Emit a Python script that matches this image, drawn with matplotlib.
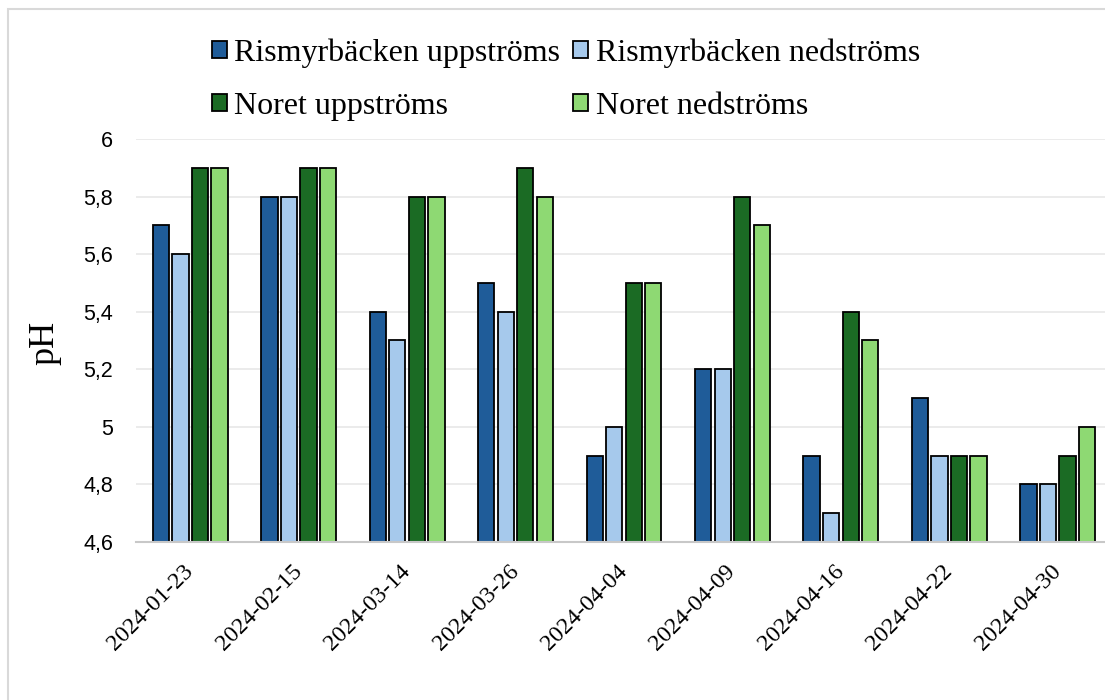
import numpy as np
import matplotlib
matplotlib.use("Agg")
import matplotlib.pyplot as plt
from matplotlib.patches import Rectangle

dates = ["2024-01-23", "2024-02-15", "2024-03-14", "2024-03-26", "2024-04-04",
         "2024-04-09", "2024-04-16", "2024-04-22", "2024-04-30"]
ris_upp = [5.7, 5.8, 5.4, 5.5, 4.9, 5.2, 4.9, 5.1, 4.8]
ris_ned = [5.6, 5.8, 5.3, 5.4, 5.0, 5.2, 4.7, 4.9, 4.8]
noret_upp = [5.9, 5.9, 5.8, 5.9, 5.5, 5.8, 5.4, 4.9, 4.9]
noret_ned = [5.9, 5.9, 5.8, 5.8, 5.5, 5.7, 5.3, 4.9, 5.0]

series = [
    ("Rismyrbäcken uppströms", ris_upp, "#1F5C99"),
    ("Rismyrbäcken nedströms", ris_ned, "#A6C9EC"),
    ("Noret uppströms", noret_upp, "#1B6B24"),
    ("Noret nedströms", noret_ned, "#8ED973"),
]

serif = "Liberation Serif"
sans = "Liberation Sans"

fig = plt.figure(figsize=(11.05, 7), dpi=100)
ax = fig.add_axes([136 / 1105, 1 - 542 / 700, (1112 - 136) / 1105, (542 - 139) / 700])

# light outer frame of the chart area
fig.patches.append(Rectangle((8 / 1105, -0.05), 1.1, 1 - 9 / 700 + 0.05,
                             transform=fig.transFigure, fill=False,
                             edgecolor="#D9D9D9", lw=1.5))

x = np.arange(len(dates))
step = 0.18
width = 0.15
handles = []
for i, (name, vals, col) in enumerate(series):
    b = ax.bar(x + (i - 1.5) * step, np.array(vals) - 4.6, width, bottom=4.6,
               color=col, edgecolor="black", linewidth=1.3, label=name, zorder=3)
    handles.append(b)

ax.set_ylim(4.6, 6.0)
ax.set_xlim(-0.5, len(dates) - 0.5)
yt = np.arange(4.6, 6.01, 0.2)
ax.set_yticks(yt)
ax.set_yticklabels([("%.1f" % v).replace(".", ",").replace(",0", "") for v in yt],
                   fontfamily=sans, fontsize=15.5)
ax.set_xticks(x)
ax.set_xticklabels(dates, rotation=45, ha="right", va="center", rotation_mode="anchor",
                   fontfamily=serif, fontsize=17.2)
ax.tick_params(axis="y", length=0, pad=16.5)
ax.tick_params(axis="x", length=0, pad=19)
ax.yaxis.grid(True, color="#E9E9E9", lw=1.3, zorder=0)
for s in ["top", "right", "left"]:
    ax.spines[s].set_visible(False)
ax.spines["bottom"].set_color("#C8C8C8")
ax.spines["bottom"].set_linewidth(1.5)
ax.spines["bottom"].set_zorder(4)

fig.text(45 / 1105, 1 - 343 / 700, "pH", rotation=90, ha="center", va="center",
         fontfamily=serif, fontsize=26)

# legend is filled row by row: Rismyrbäcken on the first row, Noret on the second
order = [0, 2, 1, 3]
fig.legend([handles[i] for i in order], [series[i][0] for i in order],
           loc="upper center", bbox_to_anchor=(566 / 1105, 1 - 10 / 700), ncol=2,
           frameon=False, prop={"family": serif, "size": 23},
           handlelength=0.45, handleheight=0.45, handletextpad=0.25,
           columnspacing=0.4, labelspacing=0.73)

fig.savefig("out.png", dpi=100)
